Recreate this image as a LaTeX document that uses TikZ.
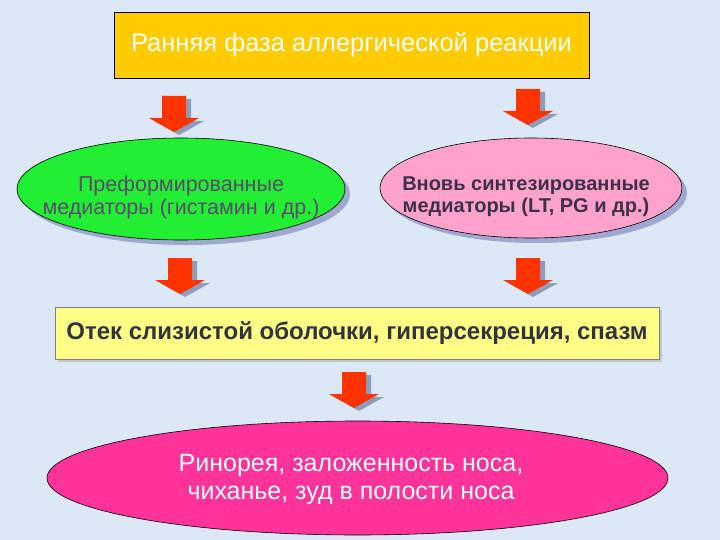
\documentclass[tikz,border=0pt]{standalone}
\usepackage{fontspec}
\setmainfont{Liberation Sans}
\usetikzlibrary{shapes.geometric,shadows}
\definecolor{bgblue}{HTML}{DCE8F6}
\definecolor{topfill}{HTML}{FFCC00}
\definecolor{greenfill}{HTML}{22EE33}
\definecolor{pinkfill}{HTML}{FFA3CC}
\definecolor{yelfill}{HTML}{FFFF88}
\definecolor{magfill}{HTML}{FF3399}
\definecolor{shadeblue}{HTML}{9AA0CC}
\definecolor{arrowred}{HTML}{FF3300}
\definecolor{arrowshade}{HTML}{8E9DBA}
\definecolor{greentext}{HTML}{5A4C6C}
\definecolor{pinktext}{HTML}{3E3048}
\definecolor{yeltext}{HTML}{33333F}
\tikzset{
  ellbox/.style={ellipse, draw=black, line width=0.6pt, inner sep=0pt},
  ellshadow/.style={drop shadow={shadow xshift=5pt, shadow yshift=-5pt, fill=shadeblue, opacity=0.9}},
  elltext/.style={align=center, inner sep=0pt},
  blockarrow/.pic={
    \fill[arrowshade] (-7,3) -- (17,3) -- (17,25) -- (30,25) -- (5,39) -- (-20,25) -- (-7,25) -- cycle;
    \fill[arrowred] (-12,0) -- (12,0) -- (12,22) -- (25,22) -- (0,36) -- (-25,22) -- (-12,22) -- cycle;
  }
}
\begin{document}
\begin{tikzpicture}[x=1pt,y=-1pt]
\fill[bgblue] (0,0) rectangle (720,540);
\useasboundingbox (0,0) rectangle (720,540);

\node[draw=black, line width=0.8pt, fill=topfill, minimum width=475pt, minimum height=66pt,
  text=white, font=\fontsize{25.5}{30}\selectfont] (top) at (351.5,45) {Ранняя фаза аллергической реакции};

\node[ellbox, ellshadow, fill=greenfill, minimum width=328pt, minimum height=102pt] (pre) at (181,189) {};
\node[elltext, text=greentext, font=\fontsize{21.5}{23}\selectfont] (pretext) at (181,197)
  {Преформированные\\медиаторы (гистамин и др.)};

\node[ellbox, ellshadow, fill=pinkfill, minimum width=302pt, minimum height=100pt] (new) at (531,188) {};
\node[elltext, text=pinktext, font=\bfseries\fontsize{20}{22}\selectfont] (newtext) at (526,197)
  {Вновь синтезированные\\медиаторы (LT, PG и др.)};

\node[draw=gray, line width=0.6pt, fill=yelfill, minimum width=604pt, minimum height=52pt,
  text=yeltext, font=\bfseries\fontsize{24}{28}\selectfont,
  drop shadow={shadow xshift=3pt, shadow yshift=-3pt, fill=gray!70}] (edema) at (357,333)
  {Отек слизистой оболочки, гиперсекреция, спазм};

\node[ellbox, fill=magfill, minimum width=621pt, minimum height=114pt] (sym) at (357.5,478) {};
\node[elltext, text=white, font=\fontsize{25}{28}\selectfont] (symtext) at (351,479)
  {Ринорея, заложенность носа,\\чиханье, зуд в полости носа};

\coordinate (a1) at (174,96);
\coordinate (a2) at (528,89);
\coordinate (a3) at (180,258);
\coordinate (a4) at (528,258);
\coordinate (a5) at (354,372);
\pic at (a1) {blockarrow};
\pic at (a2) {blockarrow};
\pic at (a3) {blockarrow};
\pic at (a4) {blockarrow};
\pic at (a5) {blockarrow};
\end{tikzpicture}
\end{document}
